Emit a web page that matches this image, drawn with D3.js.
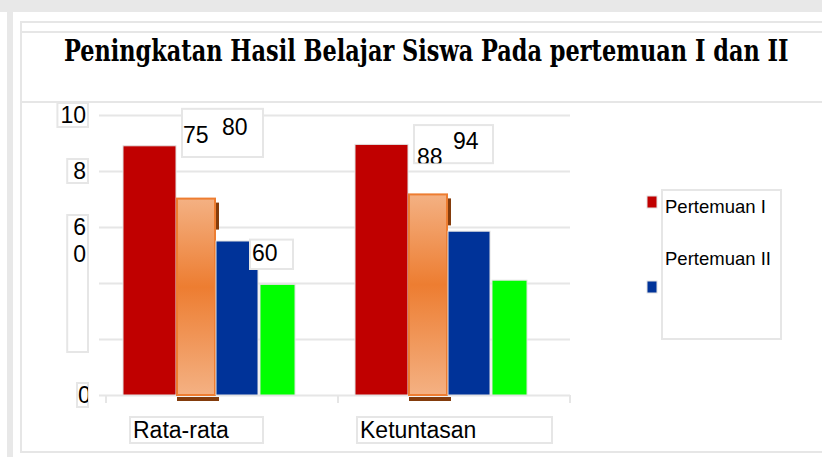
<!DOCTYPE html>
<html>
<head>
<meta charset="utf-8">
<script src="https://cdn.jsdelivr.net/npm/d3@7"></script>
<style>
  body { margin: 0; background: #fff; }
  svg { display: block; }
</style>
</head>
<body>
<div id="main"></div>
<script>
const ctx = {
    W: 822,
    H: 457,
};

// chart data
const categories = ["Rata-rata", "Ketuntasan"];
const seriesNames = ["Pertemuan I", "Seri 2", "Pertemuan II", "Seri 4"];
const seriesRed = [8.9, 8.95];
const seriesOrange = [7.05, 7.2];
const seriesBlue = [5.5, 5.85];
const seriesGreen = [3.95, 4.1];
const yTicks = [0, 2, 4, 6, 8, 10];
const yLabelValues = [10, 8, 6, 0];
const yLabelTexts = ["10", "8", "6\n0", "0"];
const labelsRata = ["75", "80", "60"];
const labelsKetuntasan = ["88", "94"];
const legendNames = ["Pertemuan I", "Pertemuan II"];

const colors = ["#c00000", "url(#orangeGrad)", "#003399", "#00ff00"];
const legendColors = ["#c00000", "#003399"];
// relative bar widths inside a category (layout only)
const barWeights = [53, 40, 42, 2, 35];

function createViz() {
    const svg = d3.select("#main").append("svg")
        .attr("width", ctx.W)
        .attr("height", ctx.H);

    const defs = svg.append("defs");
    const grad = defs.append("linearGradient")
        .attr("id", "orangeGrad")
        .attr("x1", 0).attr("y1", 0).attr("x2", 0).attr("y2", 1);
    grad.append("stop").attr("offset", "0%").attr("stop-color", "#f4b183");
    grad.append("stop").attr("offset", "45%").attr("stop-color", "#ed7d31");
    grad.append("stop").attr("offset", "100%").attr("stop-color", "#f4b183");

    // frame
    svg.append("rect").attr("width", ctx.W).attr("height", ctx.H).attr("fill", "#fff");
    svg.append("rect").attr("x", 0).attr("y", 0).attr("width", ctx.W).attr("height", 12).attr("fill", "#e8e8e8");
    svg.append("rect").attr("x", 7).attr("y", 0).attr("width", 6).attr("height", ctx.H).attr("fill", "#e8e8e8");
    svg.append("rect").attr("x", 21).attr("y", 22).attr("width", ctx.W).attr("height", 430)
        .attr("fill", "none").attr("stroke", "#e6e6e6").attr("stroke-width", 2);
    svg.append("line").attr("x1", 21).attr("x2", ctx.W).attr("y1", 32).attr("y2", 32)
        .attr("stroke", "#e6e6e6").attr("stroke-width", 2);
    svg.append("line").attr("x1", 21).attr("x2", ctx.W).attr("y1", 102).attr("y2", 102)
        .attr("stroke", "#e6e6e6").attr("stroke-width", 2);

    // title, squeezed horizontally to look condensed
    const title = svg.append("text")
        .attr("x", 0).attr("y", 0)
        .style("font-family", "'DejaVu Serif Condensed', 'DejaVu Serif', serif")
        .style("font-stretch", "condensed")
        .style("font-weight", "bold")
        .style("font-size", "29px")
        .text("Peningkatan Hasil Belajar Siswa Pada pertemuan I dan II");
    const tw = title.node().getComputedTextLength();
    title.attr("transform", `translate(64,61) scale(${725 / tw},1)`);

    const x = d3.scaleBand().domain(categories).range([106, 570]).padding(0);
    const y = d3.scaleLinear().domain([0, 10]).range([395, 115]);
    const cum = [0].concat(Array.from(d3.cumsum(barWeights)));
    const inner = d3.scaleLinear().domain([0, cum[cum.length - 1]]).range([17, 189]);
    const slot = [0, 1, 2, 4]; // gap slot skipped before the last series

    // gridlines
    const grid = svg.append("g")
        .attr("transform", "translate(570,0)")
        .call(d3.axisLeft(y).tickValues(yTicks).tickSize(471).tickFormat(""));
    grid.select(".domain").remove();
    grid.selectAll("line").attr("stroke", "#e6e6e6").attr("stroke-width", 2);

    // x axis ticks at band edges
    const edges = categories.map(c => x(c)).concat([x(categories[categories.length - 1]) + x.bandwidth()]);
    svg.selectAll(".xtick").data(edges).enter().append("line")
        .attr("x1", d => d).attr("x2", d => d)
        .attr("y1", y(0)).attr("y2", y(0) + 8)
        .attr("stroke", "#e6e6e6").attr("stroke-width", 2);

    // bars
    const table = categories.map((c, i) => ({
        cat: c,
        vals: [seriesRed[i], seriesOrange[i], seriesBlue[i], seriesGreen[i]]
    }));
    const groups = svg.selectAll(".grp").data(table).enter().append("g")
        .attr("transform", d => `translate(${x(d.cat)},0)`);

    groups.each(function (d) {
        const g = d3.select(this);
        d.vals.forEach((v, k) => {
            const bx = inner(cum[slot[k]]);
            const bw = inner(cum[slot[k] + 1]) - bx;
            if (k === 1) {
                // shadow pieces of the orange bar
                g.append("rect").attr("x", bx + bw).attr("y", y(v) + 5)
                    .attr("width", 3).attr("height", 27).attr("fill", "#843c0c");
                g.append("rect").attr("x", bx + 1).attr("y", y(0) + 2)
                    .attr("width", bw + 2).attr("height", 4).attr("fill", "#843c0c");
                g.append("rect").attr("x", bx + 1).attr("y", y(v) + 1)
                    .attr("width", bw - 2).attr("height", y(0) - y(v) - 1)
                    .attr("fill", colors[k]).attr("stroke", "#ed7d31").attr("stroke-width", 2);
            } else {
                g.append("rect").attr("x", bx).attr("y", y(v))
                    .attr("width", bw).attr("height", y(0) - y(v))
                    .attr("fill", colors[k]).attr("stroke", "#e2e2e2").attr("stroke-width", 1);
            }
        });
    });

    // y labels in boxes
    const font = "'Liberation Sans', Arial, sans-serif";
    yLabelValues.forEach((v, i) => {
        const lines = yLabelTexts[i].split("\n");
        const g = svg.append("g");
        const t = g.append("text")
            .style("font-family", font).style("font-size", "23px").attr("fill", "#000");
        lines.forEach((s, j) => {
            t.append("tspan").attr("x", v === 0 ? 78 : 86)
                .attr("y", y(v) + 8 + j * 27)
                .attr("text-anchor", v === 0 ? "start" : "end")
                .text(s);
        });
        const w = v === 0 ? 11 : t.node().getBBox().width + (v === 10 ? 5 : 8);
        const h = lines.length > 1 ? 137 : 24;
        const top = y(v) - 12;
        g.insert("rect", "text")
            .attr("x", 88 - w).attr("y", top).attr("width", w).attr("height", h)
            .attr("fill", "#fff").attr("stroke", "#e6e6e6").attr("stroke-width", 2);
        if (v === 0) {
            defs.append("clipPath").attr("id", "clip-y0").append("rect")
                .attr("x", 88 - w).attr("y", top).attr("width", w).attr("height", h);
            t.attr("clip-path", "url(#clip-y0)");
        }
    });

    // value labels
    function labelBox(id, bx0, bx1, by0, by1, texts) {
        const g = svg.append("g");
        g.append("rect").attr("x", bx0).attr("y", by0)
            .attr("width", bx1 - bx0).attr("height", by1 - by0)
            .attr("fill", "#fff").attr("stroke", "#e6e6e6").attr("stroke-width", 2);
        defs.append("clipPath").attr("id", id).append("rect")
            .attr("x", bx0).attr("y", by0).attr("width", bx1 - bx0).attr("height", by1 - by0);
        texts.forEach(tt => {
            g.append("text").attr("x", tt.x).attr("y", tt.y)
                .attr("clip-path", `url(#${id})`)
                .style("font-family", font).style("font-size", "23px")
                .text(tt.s);
        });
    }
    const c0 = x(categories[0]);
    const c1 = x(categories[1]);
    labelBox("clip-a", c0 + 76, c0 + 157, y(10.22), y(8.5), [
        { s: labelsRata[0], x: c0 + 77, y: y(9.0) },
        { s: labelsRata[1], x: c0 + 116, y: y(9.3) }
    ]);
    labelBox("clip-b", c0 + 144, c0 + 187, y(5.55), y(4.5), [
        { s: labelsRata[2], x: c0 + 146, y: y(4.78) }
    ]);
    labelBox("clip-c", c1 + 76, c1 + 155, y(9.64), y(8.28), [
        { s: labelsKetuntasan[0], x: c1 + 79, y: y(8.2) },
        { s: labelsKetuntasan[1], x: c1 + 115, y: y(8.78) }
    ]);

    // category labels
    categories.forEach((c, i) => {
        const g = svg.append("g");
        const bx = x(c) + (i === 0 ? 24 : 19);
        const bw = i === 0 ? 133 : 195;
        g.append("rect").attr("x", bx).attr("y", 417).attr("width", bw).attr("height", 26)
            .attr("fill", "#fff").attr("stroke", "#e6e6e6").attr("stroke-width", 2);
        g.append("text").attr("x", bx + 3).attr("y", 438)
            .style("font-family", font).style("font-size", "23px")
            .text(c);
    });

    // legend
    svg.append("rect").attr("x", 662).attr("y", 190).attr("width", 119).attr("height", 149)
        .attr("fill", "#fff").attr("stroke", "#e6e6e6").attr("stroke-width", 2);
    const markerY = [196, 281];
    const textY = [213, 265];
    legendNames.forEach((n, i) => {
        svg.append("rect").attr("x", 647).attr("y", markerY[i]).attr("width", 10).attr("height", 12)
            .attr("fill", legendColors[i]).attr("stroke", "#e2e2e2").attr("stroke-width", 1);
        svg.append("text").attr("x", 665).attr("y", textY[i])
            .style("font-family", font).style("font-size", "18.5px")
            .text(n);
    });
}

createViz();
</script>
</body>
</html>
